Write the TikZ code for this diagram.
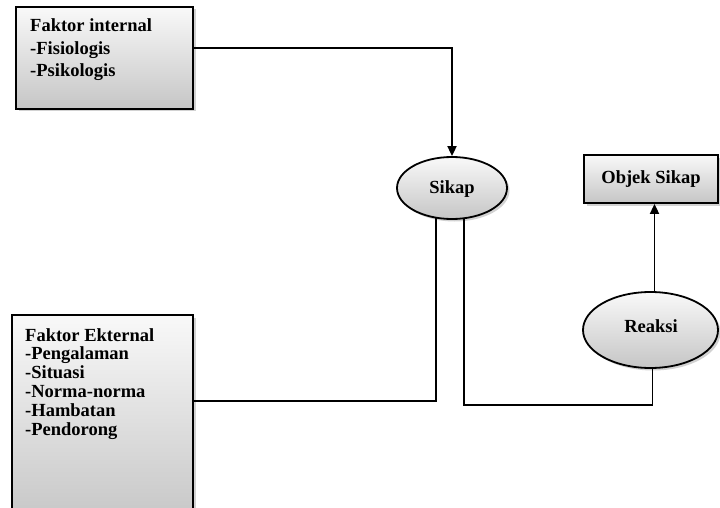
\documentclass[tikz,border=0pt]{standalone}
\usepackage{fontspec}
\setmainfont{Liberation Serif}
\usetikzlibrary{shapes.geometric,shadows,arrows.meta}
\begin{document}
\begin{tikzpicture}[x=1pt,y=-1pt,
  shaded/.style={draw=black, line width=1.8pt, top color=gray!5, bottom color=gray!45,
    drop shadow={shadow xshift=2.5pt, shadow yshift=-2.5pt, opacity=0.35}},
  box/.style={shaded, rectangle, inner sep=0pt},
  oval/.style={shaded, ellipse, inner sep=0pt},
  lbl/.style={font=\fontsize{18.5}{22.5}\selectfont\bfseries, align=left, inner sep=0pt},
  conn/.style={line width=1.8pt},
  tip/.style={-{Triangle[length=10pt,width=9pt]}}]
\clip (0,0) rectangle (720,508);
\fill[white] (0,0) rectangle (720,508);

% boxes and ellipses
\node[box, minimum width=177pt, minimum height=102pt] (internal) at (104.5,58) {};
\node[box, minimum width=181pt, minimum height=210pt] (eksternal) at (102.5,420) {};
\node[box, minimum width=134pt, minimum height=48pt] (objek) at (651,179) {};
\node[oval, minimum width=110pt, minimum height=62pt] (sikap) at (452,188) {};
\node[oval, minimum width=135pt, minimum height=76pt] (reaksi) at (650.5,330) {};

% labels (anchored at the baseline of their last line)
\node[lbl, anchor=base west] (tInternal) at (30,77)
  {Faktor internal\\-Fisiologis\\-Psikologis};
\node[lbl, anchor=base west, font=\fontsize{18.5}{18.8}\selectfont\bfseries] (tEksternal) at (25,435)
  {Faktor Ekternal\\-Pengalaman\\-Situasi\\-Norma-norma\\-Hambatan\\-Pendorong};
\node[lbl] (tObjek) at (objek) {Objek Sikap};
\node[lbl] (tSikap) at (452,189) {Sikap};
\node[lbl] (tReaksi) at (651,326) {Reaksi};

% connectors
\draw[conn, tip] ([yshift=10pt]internal.east) -| (sikap.north);
\draw[conn] ([xshift=-16pt,yshift=1.5pt]sikap.south) |- ([yshift=19pt]eksternal.east);
\draw[conn] ([xshift=12pt,yshift=1.5pt]sikap.south) |- ([xshift=2pt,yshift=-36pt]reaksi.south) -- ([xshift=2pt]reaksi.south);
\draw[conn, tip] ([xshift=4pt]reaksi.north) -- ([xshift=4pt]reaksi.north |- objek.south);
\end{tikzpicture}
\end{document}
